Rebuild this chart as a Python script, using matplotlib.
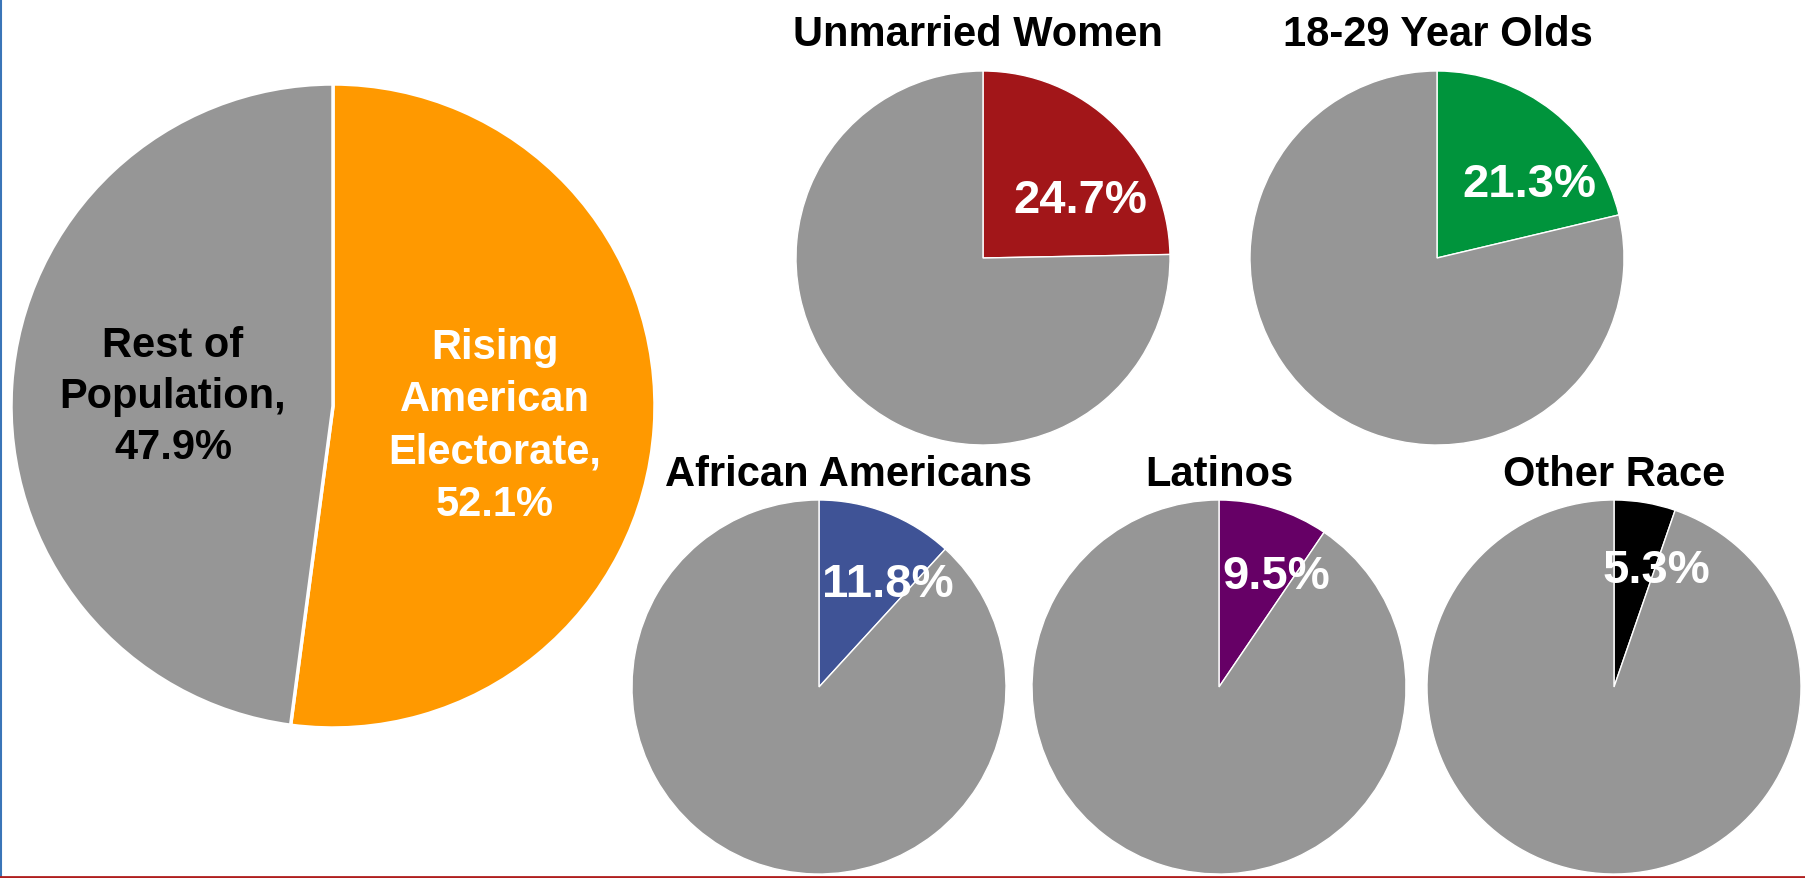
import matplotlib
matplotlib.use('Agg')
import matplotlib.pyplot as plt
from matplotlib.lines import Line2D

plt.rcParams['font.family'] = ['Liberation Sans', 'DejaVu Sans']

# Données
total_labels = ['Rising\nAmerican\nElectorate,\n52.1%', 'Rest of\nPopulation,\n47.9%']
total_values = [52.1, 47.9]

groupes = ['Unmarried Women', '18-29 Year Olds', 'African Americans', 'Latinos', 'Other Race']
parts = [24.7, 21.3, 11.8, 9.5, 5.3]
couleurs = ['#A21619', '#00943C', '#3F5396', '#660066', '#000000']

GRIS = '#969696'
W, H = 1806, 879
fig = plt.figure(figsize=(W / 100, H / 100), dpi=100)


def axe_pie(cx, cy, r):
    # cx, cy en pixels depuis le coin haut gauche
    ax = fig.add_axes([(cx - r) / W, 1 - (cy + r) / H, 2 * r / W, 2 * r / H])
    ax.axis('off')
    return ax


def fixer(ax):
    ax.set_xlim(-1, 1)
    ax.set_ylim(-1, 1)
    ax.set_aspect('equal')


# Grand camembert
ax = axe_pie(333, 407, 322)
ax.pie(total_values, colors=['#FF9900', GRIS], startangle=90, counterclock=False,
       radius=1, wedgeprops=dict(edgecolor='white', linewidth=2.5))
fixer(ax)
ax.text(0.503, -0.06, total_labels[0], ha='center', va='center', color='white',
        fontsize=30, fontweight='bold', linespacing=1.4)
ax.text(-0.497, 0.03, total_labels[1], ha='center', va='center', color='black',
        fontsize=30, fontweight='bold', linespacing=1.35)

# Petits camemberts
centres = [(983, 259), (1437, 259), (819, 688), (1219, 688), (1614, 688)]
titres_pos = [(978, 35), (1438, 35), (849, 475), (1219, 475), (1614, 475)]
labels_pos = [(0.523, 0.308), (0.492, 0.397), (0.366, 0.55), (0.304, 0.595), (0.224, 0.625)]

for i, g in enumerate(groupes):
    cx, cy = centres[i]
    ax = axe_pie(cx, cy, 187)
    ax.pie([parts[i], 100 - parts[i]], colors=[couleurs[i], GRIS], startangle=90,
           counterclock=False, radius=1, wedgeprops=dict(edgecolor='white', linewidth=1))
    fixer(ax)
    lx, ly = labels_pos[i]
    ax.text(lx, ly, f'{parts[i]}%', ha='center', va='center', color='white',
            fontsize=34, fontweight='bold')
    tx, ty = titres_pos[i]
    fig.text(tx / W, 1 - ty / H, g, ha='center', va='center', fontsize=30, fontweight='bold')

# Bordures
fig.add_artist(Line2D([0.0006, 0.0006], [0, 1], color='#3A75B8', linewidth=1.5, transform=fig.transFigure))
fig.add_artist(Line2D([0, 1], [0.0015, 0.0015], color='#B01E1E', linewidth=2, transform=fig.transFigure))

fig.savefig('out.png', dpi=100)
